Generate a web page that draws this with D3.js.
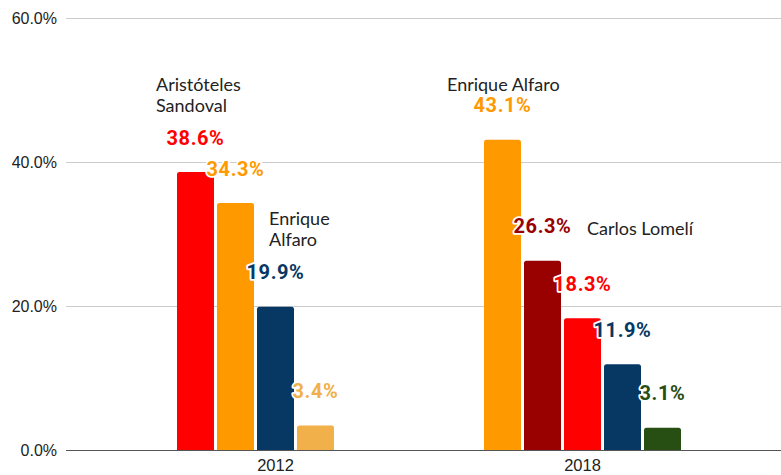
<!DOCTYPE html>
<html>
<head>
<meta charset="utf-8">
<script src="https://cdn.jsdelivr.net/npm/d3@7"></script>
<style>
  html, body { margin: 0; padding: 0; background: #fff; }
  svg { display: block; }
</style>
</head>
<body>
<script>
// Election results by year (percent of vote)
const years = ["2012", "2018"];
const slots = ["s1", "s2", "s3", "s4", "s5"];
const values2012 = [38.6, 34.3, 19.9, 3.4, null];
const values2018 = [43.1, 26.3, 18.3, 11.9, 3.1];
const colors2012 = ["#ff0000", "#ff9900", "#073763", "#f2b04a", null];
const colors2018 = ["#ff9900", "#990000", "#ff0000", "#073763", "#274e13"];
const yTicks = [0, 20, 40, 60];
const candidateNames = [
  { year: "2012", slot: 0, lines: ["Aristóteles", "Sandoval"] },
  { year: "2012", slot: 1, lines: ["Enrique", "Alfaro"] },
  { year: "2018", slot: 0, lines: ["Enrique Alfaro"] },
  { year: "2018", slot: 1, lines: ["Carlos Lomelí"] }
];

const W = 781, H = 475;
const plotLeft = 66, plotRight = 781, plotTop = 18, plotBottom = 450;

const rows = [
  { year: "2012", values: values2012, colors: colors2012 },
  { year: "2018", values: values2018, colors: colors2018 }
];

const svg = d3.select("body").append("svg").attr("width", W).attr("height", H);

const y = d3.scaleLinear().domain([0, 60]).range([plotBottom, plotTop]);

const groupPad = 0.3583;
const x0 = d3.scaleBand().domain(years).range([122, 736])
  .paddingInner(groupPad).paddingOuter(groupPad / 2);
const x1 = d3.scaleBand().domain(slots).range([0, x0.bandwidth()])
  .paddingInner(0.075).paddingOuter(0);
const bw = x1.bandwidth();

// horizontal gridlines
const grid = svg.append("g");
grid.selectAll("line").data(yTicks.filter(t => t > 0)).join("line")
  .attr("x1", plotLeft).attr("x2", plotRight)
  .attr("y1", d => y(d) + 0.5).attr("y2", d => y(d) + 0.5)
  .attr("stroke", "#cccccc").attr("stroke-width", 1);

// y axis labels
const yAxis = d3.axisLeft(y).tickValues(yTicks).tickSize(0).tickPadding(9)
  .tickFormat(d => d3.format(".1f")(d) + "%");
const gy = svg.append("g").attr("transform", `translate(${plotLeft},0)`).call(yAxis);
gy.select(".domain").remove();
gy.selectAll("text").attr("font-family", "'Liberation Sans', Arial, sans-serif")
  .attr("font-size", 16).attr("fill", "#222");

// bars with slightly rounded tops
function barPath(x, yTop, w, h, r) {
  r = Math.min(r, h);
  return `M${x},${yTop + h}V${yTop + r}Q${x},${yTop} ${x + r},${yTop}` +
    `H${x + w - r}Q${x + w},${yTop} ${x + w},${yTop + r}V${yTop + h}Z`;
}

const bars = [];
rows.forEach(row => {
  row.values.forEach((v, i) => {
    if (v == null) return;
    bars.push({ year: row.year, slot: i, value: v, color: row.colors[i] });
  });
});
const barX = d => x0(d.year) + x1(slots[d.slot]);

svg.append("g").selectAll("path").data(bars).join("path")
  .attr("d", d => barPath(barX(d), y(d.value), bw, y(0) - y(d.value), 2.5))
  .attr("fill", d => d.color);

// baseline
svg.append("line")
  .attr("x1", plotLeft).attr("x2", plotRight)
  .attr("y1", y(0) + 0.5).attr("y2", y(0) + 0.5)
  .attr("stroke", "#555").attr("stroke-width", 1.2);

// category axis
const xAxis = d3.axisBottom(x0).tickSize(0).tickPadding(9);
const gx = svg.append("g").attr("transform", `translate(0,${plotBottom})`).call(xAxis);
gx.select(".domain").remove();
gx.selectAll("text").attr("font-family", "'Liberation Sans', Arial, sans-serif")
  .attr("font-size", 16.5).attr("fill", "#222");

// value labels with white halo
svg.append("g").selectAll("text").data(bars).join("text")
  .attr("x", d => barX(d) + bw / 2)
  .attr("y", d => y(d.value) - 34.5)
  .attr("dy", "0.36em")
  .attr("text-anchor", "middle")
  .attr("font-family", "Roboto, sans-serif")
  .attr("font-weight", 700)
  .attr("font-size", 20)
  .attr("letter-spacing", 0.6)
  .attr("fill", d => d.color)
  .attr("stroke", "#fff").attr("stroke-width", 3.5)
  .attr("stroke-linejoin", "round").attr("paint-order", "stroke")
  .text(d => d3.format(".1f")(d.value) + "%");

// candidate name annotations, positioned relative to their bars
const nameOffsets = [
  { dx: -21, dy: -88 },
  { dx: 52, dy: 15 },
  { dx: -37, dy: -55 },
  { dx: 63, dy: -32 }
];
const lineGap = 21.5;
const nameG = svg.append("g");
candidateNames.forEach((n, k) => {
  const row = rows.find(r => r.year === n.year);
  const b = { year: n.year, slot: n.slot, value: row.values[n.slot] };
  const tx = barX(b) + nameOffsets[k].dx;
  const t = nameG.append("text")
    .attr("font-family", "Lato, sans-serif")
    .attr("font-size", 18)
    .attr("fill", "#222")
    .attr("x", tx)
    .attr("y", y(b.value) + nameOffsets[k].dy);
  n.lines.forEach((line, j) => {
    t.append("tspan").attr("x", tx)
      .attr("dy", j === 0 ? "0.36em" : lineGap).text(line);
  });
});
</script>
</body>
</html>
